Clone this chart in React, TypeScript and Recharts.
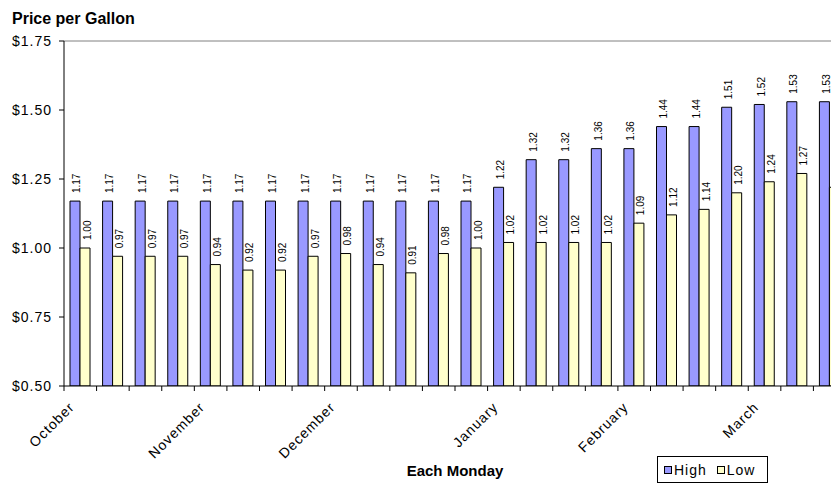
import React from 'react';
import { BarChart, Bar, XAxis, YAxis, LabelList, Legend, ReferenceLine } from 'recharts';

const weeks = [
  'Oct 7', 'Oct 14', 'Oct 21', 'Oct 28',
  'Nov 4', 'Nov 11', 'Nov 18', 'Nov 25',
  'Dec 2', 'Dec 9', 'Dec 16', 'Dec 23', 'Dec 30',
  'Jan 6', 'Jan 13', 'Jan 20', 'Jan 27',
  'Feb 3', 'Feb 10', 'Feb 17', 'Feb 24',
  'Mar 3', 'Mar 10', 'Mar 17',
];
const monthLabels = [
  'October', '', '', '',
  'November', '', '', '',
  'December', '', '', '', '',
  'January', '', '', '',
  'February', '', '', '',
  'March', '', '',
];
const high = [
  1.17, 1.17, 1.17, 1.17, 1.17, 1.17, 1.17, 1.17, 1.17, 1.17, 1.17, 1.17, 1.17,
  1.22, 1.32, 1.32, 1.36, 1.36, 1.44, 1.44, 1.51, 1.52, 1.53, 1.53,
];
const low = [
  1.0, 0.97, 0.97, 0.97, 0.94, 0.92, 0.92, 0.97, 0.98, 0.94, 0.91, 0.98, 1.0,
  1.02, 1.02, 1.02, 1.02, 1.09, 1.12, 1.14, 1.2, 1.24, 1.27, 1.22,
];
const yTicks = [0.5, 0.75, 1.0, 1.25, 1.5, 1.75];
const seriesNames = ['High', 'Low'];

const data = weeks.map((w, i) => ({ week: w, high: high[i], low: low[i] }));

const FONT = 'Arial, "Liberation Sans", Helvetica, sans-serif';
const CHART_W = 860;
const CHART_H = 485;
const Y_AXIS_W = 64;
const RIGHT_M = 14;
const STEP = (CHART_W - Y_AXIS_W - RIGHT_M) / weeks.length;
const HIGH_FILL = '#9999FF';
const LOW_FILL = '#FFFFCC';

const XTick = (props: any) => {
  const { x, y, index } = props;
  const label = monthLabels[index];
  const left = x - STEP / 2;
  const ax = x - 5;
  const ay = y + 22;
  return (
    <g>
      <line x1={left} x2={left} y1={y} y2={y + 5} stroke="#000" strokeWidth={1} />
      {index === weeks.length - 1 && (
        <line x1={x + STEP / 2} x2={x + STEP / 2} y1={y} y2={y + 5} stroke="#000" strokeWidth={1} />
      )}
      {label && (
        <text
          x={ax}
          y={ay}
          transform={`rotate(-45 ${ax} ${ay})`}
          textAnchor="end"
          fontSize={14}
          letterSpacing={1}
          fontFamily={FONT}
          fill="#000"
        >
          {label}
        </text>
      )}
    </g>
  );
};

const BarValueLabel = (props: any) => {
  const { x, y, width, value } = props;
  const cx = Number(x) + Number(width) / 2 + 5.5;
  const cy = Number(y) - 8;
  return (
    <text
      x={cx}
      y={cy}
      transform={`rotate(-90 ${cx} ${cy})`}
      textAnchor="start"
      fontSize={10}
      fontFamily={FONT}
      fill="#000"
    >
      {Number(value).toFixed(2)}
    </text>
  );
};

const LegendBox = () => (
  <div
    style={{
      boxSizing: 'border-box',
      width: 111,
      height: 27,
      border: '1px solid #000',
      background: '#fff',
      display: 'flex',
      alignItems: 'center',
      paddingLeft: 6,
      fontFamily: FONT,
      fontSize: 14,
      letterSpacing: 1,
      color: '#000',
    }}
  >
    {seriesNames.map((n, i) => (
      <span key={n} style={{ display: 'flex', alignItems: 'center', marginRight: i === 0 ? 10 : 0 }}>
        <span
          style={{
            display: 'inline-block',
            boxSizing: 'border-box',
            width: 8,
            height: 8,
            border: '1px solid #000',
            background: i === 0 ? HIGH_FILL : LOW_FILL,
            marginRight: 2,
          }}
        />
        <span>{n}</span>
      </span>
    ))}
  </div>
);

export default function App() {
  return (
    <div
      style={{
        position: 'fixed',
        left: 0,
        top: 0,
        width: 831,
        height: 485,
        overflow: 'hidden',
        background: '#fff',
      }}
    >
      <BarChart
        width={CHART_W}
        height={CHART_H}
        data={data}
        margin={{ top: 41, right: RIGHT_M, bottom: 0, left: 0 }}
        barGap={0}
      >
        <XAxis
          dataKey="week"
          height={99}
          interval={0}
          tickLine={false}
          tickSize={0}
          tickMargin={0}
          axisLine={{ stroke: '#000', strokeWidth: 1 }}
          tick={<XTick />}
          label={{
            content: (p: any) => {
              const vb = p.viewBox || { x: Y_AXIS_W, y: 386, width: 782 };
              return (
                <text
                  x={vb.x + vb.width / 2}
                  y={476}
                  textAnchor="middle"
                  fontSize={15}
                  fontWeight="bold"
                  fontFamily={FONT}
                  fill="#000"
                >
                  Each Monday
                </text>
              );
            },
          }}
        />
        <YAxis
          width={Y_AXIS_W}
          domain={[0.5, 1.75]}
          ticks={yTicks}
          allowDataOverflow
          axisLine={{ stroke: '#000', strokeWidth: 1 }}
          tickLine={{ stroke: '#000', strokeWidth: 1 }}
          tickSize={5}
          tickMargin={7}
          tick={{ fontSize: 14, fill: '#000', fontFamily: FONT, letterSpacing: 1 }}
          tickFormatter={(v: number) => `$${v.toFixed(2)}`}
          label={{
            content: () => (
              <text x={12} y={24} fontSize={16} fontWeight="bold" fontFamily={FONT} fill="#000">
                Price per Gallon
              </text>
            ),
          }}
        />
        <ReferenceLine y={1.75} stroke="#808080" strokeWidth={1} />
        <Legend
          layout="horizontal"
          verticalAlign="middle"
          align="center"
          content={() => <LegendBox />}
          wrapperStyle={{ position: 'absolute', left: 657, top: 456, width: 111, height: 27, margin: 0 }}
        />
        <Bar dataKey="high" name="High" fill={HIGH_FILL} stroke="#000" strokeWidth={1} barSize={10} isAnimationActive={false}>
          <LabelList dataKey="high" content={<BarValueLabel />} />
        </Bar>
        <Bar dataKey="low" name="Low" fill={LOW_FILL} stroke="#000" strokeWidth={1} barSize={10} isAnimationActive={false}>
          <LabelList dataKey="low" content={<BarValueLabel />} />
        </Bar>
      </BarChart>
    </div>
  );
}
